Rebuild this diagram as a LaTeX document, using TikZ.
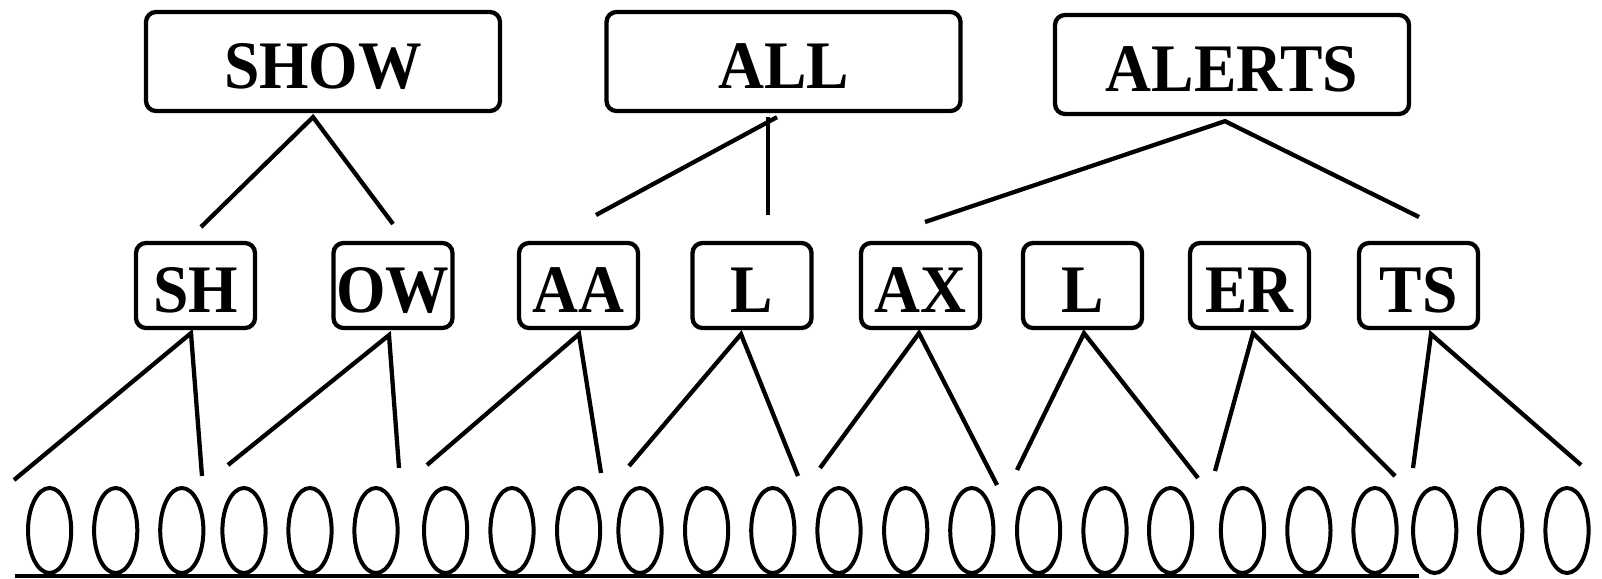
\documentclass[tikz,border=0pt]{standalone}
\usepackage{fontspec}
\setmainfont{Liberation Serif}
\usepackage{graphicx}
\newcommand{\lbl}[1]{\scalebox{0.935}[1]{\fontsize{68}{68}\selectfont\bfseries #1}}
\begin{document}
\begin{tikzpicture}[x=1pt,y=-1pt,
  box/.style={draw,line width=4.3pt,rounded corners=10pt,inner sep=0pt,text height=57pt,text depth=3pt},
  topbox/.style={box,minimum width=354pt,minimum height=99pt},
  midbox/.style={box,minimum width=119pt,minimum height=85pt},
  link/.style={line width=4.3pt},
  frame/.style={line width=4pt}]
\useasboundingbox (0,0) rectangle (1602,578);
% top words
\node[topbox] (show) at (323,61.5) {\lbl{SHOW}};
\node[topbox] (all) at (783.5,61.5) {\lbl{ALL}};
\node[topbox] (alerts) at (1232,64.5) {\lbl{ALERTS}};
% phones
\node[midbox] (sh) at (195.5,285.5) {\lbl{SH}};
\node[midbox] (ow) at (393,285.5) {\lbl{OW}};
\node[midbox] (aa) at (578.5,285.5) {\lbl{AA}};
\node[midbox] (l) at (752,285.5) {\lbl{L}};
\node[midbox] (ax) at (920.5,285.5) {\lbl{AX}};
\node[midbox] (l2) at (1082.5,285.5) {\lbl{L}};
\node[midbox] (er) at (1249.5,285.5) {\lbl{ER}};
\node[midbox] (ts) at (1418.5,285.5) {\lbl{TS}};
% free ends, word level
\coordinate (show-l) at (201,227);
\coordinate (show-r) at (393,224);
\coordinate (all-l) at (596,215);
\coordinate (all-v) at (768,215);
\coordinate (alerts-l) at (925,222);
\coordinate (alerts-r) at (1419,217);
\draw[link] (show-l) -- ([xshift=-10pt,yshift=-4pt]show.south) -- (show-r);
\draw[link] (all-l) -- ([xshift=-6.5pt,yshift=-4pt]all.south);
\draw[link] ([xshift=-15.5pt,yshift=-4pt]all.south) -- (all-v);
\draw[link] (alerts-l) -- ([xshift=-7pt,yshift=-5pt]alerts.south) -- (alerts-r);
% free ends, state level
\coordinate (sh-l) at (14,480);   \coordinate (sh-r) at (202,476);
\coordinate (ow-l) at (228,465);  \coordinate (ow-r) at (399,468);
\coordinate (aa-l) at (427,465);  \coordinate (aa-r) at (601,473);
\coordinate (l-l) at (629,466);   \coordinate (l-r) at (798,476);
\coordinate (ax-l) at (820,468);  \coordinate (ax-r) at (997,485);
\coordinate (l2-l) at (1017,470); \coordinate (l2-r) at (1198,478);
\coordinate (er-l) at (1215,471); \coordinate (er-r) at (1395,476);
\coordinate (ts-l) at (1413,468); \coordinate (ts-r) at (1581,465);
\draw[link] (sh-l) -- ([xshift=-4.5pt,yshift=-3pt]sh.south) -- (sh-r);
\draw[link] (ow-l) -- ([xshift=-4pt,yshift=-5pt]ow.south) -- (ow-r);
\draw[link] (aa-l) -- ([xshift=0.5pt,yshift=-4pt]aa.south) -- (aa-r);
\draw[link] (l-l) -- ([xshift=-11pt,yshift=-4pt]l.south) -- (l-r);
\draw[link] (ax-l) -- ([xshift=-1.5pt,yshift=-3pt]ax.south) -- (ax-r);
\draw[link] (l2-l) -- ([xshift=1.5pt,yshift=-3pt]l2.south) -- (l2-r);
\draw[link] (er-l) -- ([xshift=3.5pt,yshift=-3pt]er.south) -- (er-r);
\draw[link] (ts-l) -- ([xshift=12.5pt,yshift=-4pt]ts.south) -- (ts-r);
% states
\foreach \cx in {49.6,115.7,181.8,244,310,376,445.6,512,578.6,640,706.6,772.8,839,905.7,971.8,1038.6,1105,1170.6,1242.5,1308.9,1375,1434.7,1500.7,1567}
  \draw[frame] (\cx,530.5) ellipse [x radius=21.6pt, y radius=42.5pt];
\draw[frame] (15,576) -- (1419,576);
\end{tikzpicture}
\end{document}
